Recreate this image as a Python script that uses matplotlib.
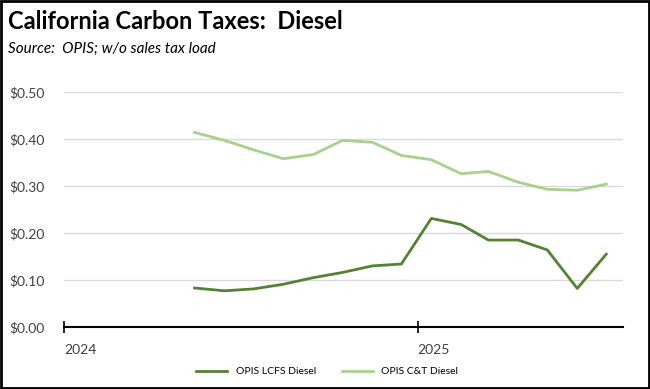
import matplotlib.pyplot as plt
import pandas as pd

# monthly averages, May 2024 - Jul 2025 (plotted mid-month)
months = ["2024-05", "2024-06", "2024-07", "2024-08", "2024-09", "2024-10", "2024-11", "2024-12",
          "2025-01", "2025-02", "2025-03", "2025-04", "2025-05", "2025-06", "2025-07"]
lcfs_diesel = [0.083, 0.077, 0.081, 0.091, 0.105, 0.116, 0.130, 0.134,
               0.231, 0.218, 0.185, 0.185, 0.164, 0.082, 0.155]
ct_diesel = [0.414, 0.397, 0.377, 0.358, 0.367, 0.397, 0.393, 0.365,
             0.356, 0.326, 0.331, 0.308, 0.293, 0.291, 0.304]
year_ticks = ["2024-01-01", "2025-01-01"]
year_labels = ["2024", "2025"]

plt.rcParams['font.family'] = ['Lato', 'DejaVu Sans']

dates = pd.to_datetime(months) + pd.Timedelta(days=14)

fig = plt.figure(figsize=(6.5, 3.89), dpi=100)
ax = fig.add_axes([0.0985, 0.1594, 0.8595, 0.6041])

ax.plot(dates, lcfs_diesel, color="#548235", lw=2, label="OPIS LCFS Diesel")
ax.plot(dates, ct_diesel, color="#A9D18E", lw=2, label="OPIS C&T Diesel")

ax.set_ylim(0, 0.5)
ax.set_yticks([0, 0.1, 0.2, 0.3, 0.4, 0.5])
ax.set_yticklabels([f"${v:.2f}" for v in [0, 0.1, 0.2, 0.3, 0.4, 0.5]], fontsize=10, color="#404040")
ax.tick_params(axis="y", length=0, pad=14)
ax.grid(axis="y", color="#d9d9d9", lw=1)
ax.set_axisbelow(True)

ax.set_xlim(pd.Timestamp("2024-01-01"), pd.Timestamp("2025-08-01"))
ax.set_xticks(pd.to_datetime(year_ticks))
ax.set_xticklabels(year_labels, fontsize=10, color="#404040", ha="left")
ax.tick_params(axis="x", direction="inout", length=9, width=1.2, pad=8)

for s in ["top", "right", "left"]:
    ax.spines[s].set_visible(False)
ax.spines["bottom"].set_linewidth(1.5)

fig.text(0.012, 0.925, "California Carbon Taxes:  Diesel", fontsize=17, fontweight="bold")
fig.text(0.012, 0.865, "Source:  OPIS; w/o sales tax load", fontsize=11, style="italic")

ax.legend(loc="upper center", bbox_to_anchor=(0.471, -0.13), ncol=2, frameon=False,
          fontsize=7.5, handlelength=3, columnspacing=2.5)

border = plt.Rectangle((0.002, 0.003), 0.996, 0.994, transform=fig.transFigure,
                       fill=False, edgecolor="black", lw=2)
fig.patches.append(border)

fig.savefig("out.png", dpi=100)
